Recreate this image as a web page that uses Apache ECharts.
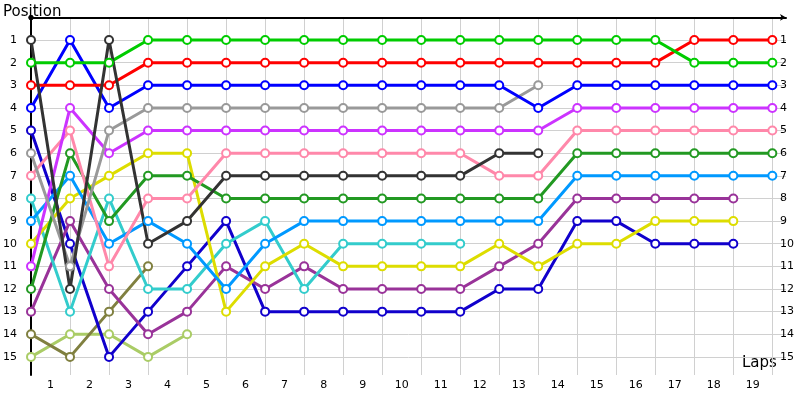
<!DOCTYPE html><html><head><meta charset="utf-8"><script src="https://cdn.jsdelivr.net/npm/echarts@6/dist/echarts.min.js"></script></head><body style="margin:0"><div id="c" style="width:800px;height:400px"></div><script>
const laps=[0,1,2,3,4,5,6,7,8,9,10,11,12,13,14,15,16,17,18,19];
const names=['Lime','Red','Blue','Gray','Magenta','Pink','Black','Green','Sky','Yellow','Cyan','Purple','Navy','Olive','Lightgreen'];
const colors=['#00cc00','#ff0000','#0000ff','#999999','#cc33ff','#ff88aa','#333333','#229922','#0099ff','#dddd00','#33cccc','#993399','#1100cc','#808040','#aacc66'];
const lime=[2,2,2,1,1,1,1,1,1,1,1,1,1,1,1,1,1,2,2,2];
const red=[3,3,3,2,2,2,2,2,2,2,2,2,2,2,2,2,2,1,1,1];
const blue=[4,1,4,3,3,3,3,3,3,3,3,3,3,4,3,3,3,3,3,3];
const gray=[6,11,5,4,4,4,4,4,4,4,4,4,4,3];
const magenta=[11,4,6,5,5,5,5,5,5,5,5,5,5,5,4,4,4,4,4,4];
const pink=[7,5,11,8,8,6,6,6,6,6,6,6,7,7,5,5,5,5,5,5];
const black=[1,12,1,10,9,7,7,7,7,7,7,7,6,6];
const green=[12,6,9,7,7,8,8,8,8,8,8,8,8,8,6,6,6,6,6,6];
const sky=[9,7,10,9,10,12,10,9,9,9,9,9,9,9,7,7,7,7,7,7];
const yellow=[10,8,7,6,6,13,11,10,11,11,11,11,10,11,10,10,9,9,9];
const cyan=[8,13,8,12,12,10,9,12,10,10,10,10];
const purple=[13,9,12,14,13,11,12,11,12,12,12,12,11,10,8,8,8,8,8];
const navy=[5,10,15,13,11,9,13,13,13,13,13,13,12,12,9,9,10,10,10];
const olive=[14,15,13,11];
const lightgreen=[15,14,14,15,14];
const all=[lime,red,blue,gray,magenta,pink,black,green,sky,yellow,cyan,purple,navy,olive,lightgreen];
const order=[14,13,12,11,10,9,8,7,5,4,3,2,1,0,6];
const ax={type:'value',inverse:true,min:0,max:15.8,interval:1,
 axisLabel:{color:'#000',fontSize:11,fontFamily:'Verdana, DejaVu Sans',formatter:v=>(v>=1&&v<=15&&Number.isInteger(v))?v:''},
 splitLine:{show:true,showMinLine:false,showMaxLine:false,lineStyle:{color:'#d0d0d0'}},axisTick:{show:false}};
const ch=echarts.init(document.getElementById('c'));
ch.setOption({animation:false,
 grid:{left:31,right:14,top:17.4,bottom:25},
 xAxis:{type:'value',min:0,max:19.35,interval:1,
  axisLine:{lineStyle:{color:'#000',width:2},symbol:['circle','arrow'],symbolSize:[5,6]},
  axisTick:{show:false},
  splitLine:{show:true,showMaxLine:false,lineStyle:{color:'#d0d0d0'}},
  axisLabel:{color:'#000',fontSize:11,fontFamily:'Verdana, DejaVu Sans',margin:5,padding:[0,0,0,39],formatter:v=>v<19?String(v+1):''}},
 yAxis:[Object.assign({},ax,{position:'left',name:'Position',nameLocation:'start',nameGap:-2,
   nameTextStyle:{color:'#000',fontSize:15,fontFamily:'Verdana, DejaVu Sans',align:'left',padding:[0,0,0,-28]},
   axisLine:{show:true,lineStyle:{color:'#000',width:2},symbol:['none','circle'],symbolSize:[5,5]},axisLabel:Object.assign({},ax.axisLabel,{margin:14})}),
  Object.assign({},ax,{position:'right',offset:-12,axisLine:{show:false},splitLine:{show:false},axisLabel:Object.assign({},ax.axisLabel,{margin:6})})],
 graphic:[{type:'text',left:742,top:356,style:{text:'Laps',fontSize:15,fill:'#000',fontFamily:'Verdana, DejaVu Sans'}}],
 series:order.map(i=>({name:names[i],type:'line',data:all[i].map((v,k)=>[laps[k],v]),
  lineStyle:{width:3,color:colors[i]},itemStyle:{color:colors[i],borderWidth:1.2},
  symbol:'emptyCircle',symbolSize:8,z:2}))
});
</script></body></html>
